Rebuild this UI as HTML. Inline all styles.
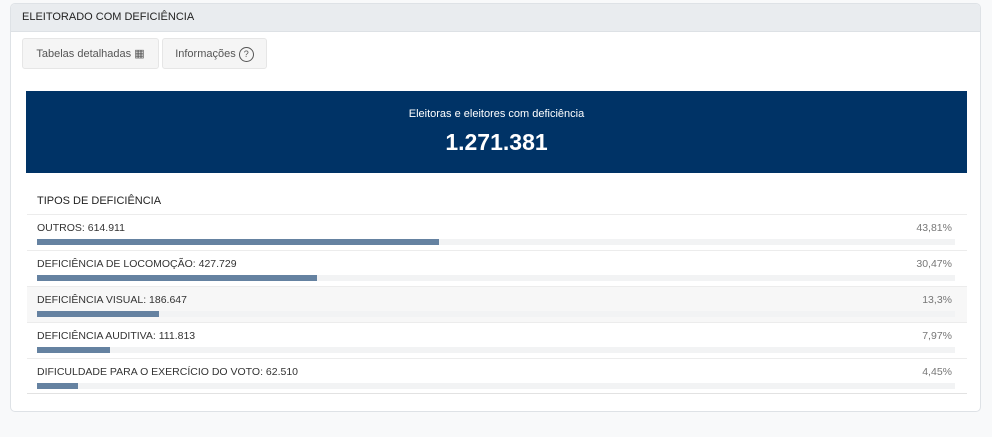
<!DOCTYPE html>
<html><head><meta charset="utf-8"><style>
body{margin:0;width:992px;height:437px;background:#f8f9fa;font-family:"Liberation Sans",sans-serif;overflow:hidden;position:relative}
.card{position:absolute;left:10px;top:3px;width:971px;height:409px;background:#fff;border:1px solid #dee2e6;border-radius:5px;box-sizing:border-box;overflow:hidden}
.hdr{height:27px;background:#e9ecef;border-bottom:1px solid #dde1e5;font-size:11px;color:#222;line-height:27px;padding-left:11px}
.btn{position:absolute;top:34px;height:31px;background:#f5f5f5;border:1px solid #e6e6e6;border-radius:3px;font-size:11px;color:#555;line-height:31px;box-sizing:border-box;text-align:center}
.big{position:absolute;left:15px;top:87px;width:941px;height:82px;background:#003366;color:#fff;text-align:center}
.title{position:absolute;left:26px;top:191px;font-size:11px;color:#222}
.row{position:absolute;left:16px;width:940px;height:36px;border-top:1px solid #ececec;box-sizing:border-box}
.lbl{position:absolute;left:10px;top:7px;font-size:10.5px;color:#333}
.pct{position:absolute;right:15px;top:7px;font-size:10.5px;color:#777}
.trk{position:absolute;left:10px;top:24px;width:918px;height:6px;background:#f2f3f4}
.bar{position:absolute;left:0;top:0;height:6px;background:#6582a1}
</style></head><body>
<div class="card">
<div class="hdr">ELEITORADO COM DEFICIÊNCIA</div>
<div class="btn" style="left:11px;width:137px">Tabelas detalhadas <span style="font-size:11px">&#9638;</span></div>
<div class="btn" style="left:151px;width:105px">Informações <span style="display:inline-block;width:13px;height:13px;border:1px solid #555;border-radius:50%;line-height:13px;font-size:9px">?</span></div>
<div class="big">
<div style="position:absolute;top:17px;width:100%;font-size:11px">Eleitoras e eleitores com deficiência</div>
<div style="position:absolute;top:38px;width:100%;font-size:23px;font-weight:bold">1.271.381</div>
</div>
<div class="title">TIPOS DE DEFICIÊNCIA</div>
<div id="rows"></div>
</div>
<script>
const categories=["OUTROS","DEFICIÊNCIA DE LOCOMOÇÃO","DEFICIÊNCIA VISUAL","DEFICIÊNCIA AUDITIVA","DIFICULDADE PARA O EXERCÍCIO DO VOTO"];
const counts=["614.911","427.729","186.647","111.813","62.510"];
const percents=[43.81,30.47,13.3,7.97,4.45];
const trackW=918;
const c=document.getElementById('rows');
categories.forEach((cat,i)=>{
 const r=document.createElement('div');r.className='row';
 
 
 r.style.top=(210+i*36)+'px';
 if(i===2)r.style.background='#f7f7f7';
 if(i===categories.length-1)r.style.borderBottom='1px solid #e2e2e2';
 const l=document.createElement('div');l.className='lbl';l.textContent=cat+': '+counts[i];
 
 
 const p=document.createElement('div');p.className='pct';p.textContent=String(percents[i]).replace('.',',')+'%';
 
 
 const t=document.createElement('div');t.className='trk';
 
 
 const b=document.createElement('div');b.className='bar';b.style.width=(percents[i]/100*trackW)+'px';
 
 
 t.appendChild(b);r.appendChild(l);r.appendChild(p);r.appendChild(t);c.appendChild(r);
});
</script>
</body></html>
